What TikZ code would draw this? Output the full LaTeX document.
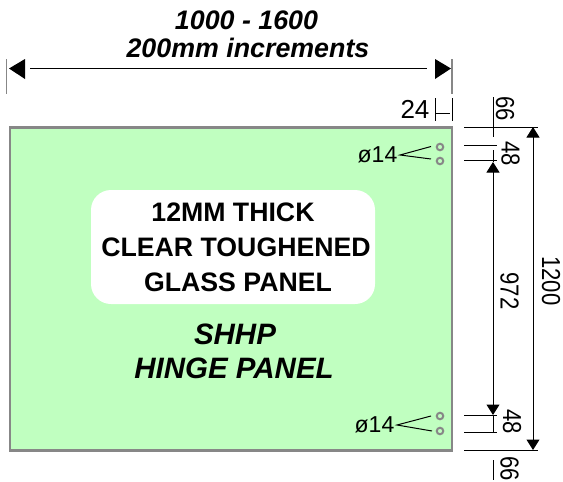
\documentclass[tikz,border=0pt]{standalone}
\usepackage{fontspec}
\setmainfont{Liberation Sans}
\usetikzlibrary{arrows.meta,positioning,calc}
\definecolor{panelgreen}{RGB}{192,255,192}
\definecolor{edgegray}{RGB}{135,135,135}
\tikzset{
    dimline/.style={line width=1pt, black},
    tickline/.style={line width=1.2pt, edgegray},
    bighead/.style={{Triangle[length=10.5pt,width=13pt]}-{Triangle[length=10.5pt,width=13pt]}},
    dimtext/.style={font=\fontsize{26}{28}\selectfont, inner sep=0pt},
    diatext/.style={font=\fontsize{23}{26}\selectfont, inner sep=0pt},
    sidetext/.style={dimtext, rotate=-90, xscale=0.85, transform shape},
    paneltext/.style={font=\fontsize{26.7}{30}\selectfont\bfseries, inner sep=0pt},
    titletext/.style={font=\fontsize{26.8}{30}\selectfont\bfseries\itshape, inner sep=0pt},
    hingetext/.style={font=\fontsize{29.5}{32}\selectfont\bfseries\itshape, inner sep=0pt},
    hole/.style={draw=edgegray, line width=2pt, fill=panelgreen, circle, inner sep=0pt, minimum size=6.5pt}
}
\begin{document}
\begin{tikzpicture}[x=1pt, y=-1pt]
    \useasboundingbox (0,0) rectangle (563,482);

    % Panel
    \node[draw=edgegray, line width=2.6pt, fill=panelgreen, minimum width=442pt, minimum height=323pt, inner sep=0pt, anchor=north west] (panel) at (8.7,125.9) {};
    \node[fill=white, rounded corners=20pt, minimum width=284pt, minimum height=114pt, inner sep=0pt] (label) at (233,247) {};

    % Panel text
    \node[paneltext] (thick) at (233,212) {12MM THICK};
    \node[paneltext] (clear) at (236,247) {CLEAR TOUGHENED};
    \node[paneltext] (glass) at (238,282) {GLASS PANEL};
    \node[hingetext] (shhp) at (235,334) {SHHP};
    \node[hingetext] (hinge) at (234,368) {HINGE PANEL};

    % Overall width
    \node[titletext] (range) at (246.5,20) {1000 - 1600};
    \node[titletext] (incr) at (248,48) {200mm increments};
    \coordinate (wl) at (6.5,59);
    \coordinate (wlb) at (6.5,94);
    \coordinate (wr) at (452,59);
    \coordinate (wrb) at (452,94);
    \draw[tickline] (wl) -- (wlb);
    \draw[tickline] (wr) -- (wrb);
    \fill (9,68.5) -- (25,59) -- (25,79) -- cycle;
    \fill (451,68.5) -- (435,59) -- (435,79) -- cycle;
    \coordinate (wa) at (30,68.5);
    \coordinate (wb) at (427,68.5);
    \draw[dimline] (wa) -- (wb);

    % Hole offset
    \node[dimtext] (d24) at (415,109) {24};
    \coordinate (oa) at (435,98);
    \coordinate (ob) at (435,121);
    \coordinate (oc) at (452,98);
    \coordinate (od) at (452,121);
    \coordinate (oe) at (435,113);
    \coordinate (of) at (450,113);
    \draw[dimline] (oa) -- (ob);
    \draw[dimline] (oc) -- (od);
    \draw[dimline] (oe) -- (of);

    % Holes
    \node[hole] (h1) at (440,147) {};
    \node[hole] (h2) at (440,161) {};
    \node[hole] (h3) at (440,416) {};
    \node[hole] (h4) at (440,431) {};
    \node[diatext] (dia1) at (377.5,155) {ø14};
    \node[diatext] (dia2) at (374.5,425) {ø14};
    \coordinate (l1) at (400,155);
    \coordinate (l2) at (397,425);
    \coordinate (e1) at (431,146.5);
    \coordinate (e2) at (431,159);
    \coordinate (e3) at (431,416);
    \coordinate (e4) at (432,431);
    \draw[dimline] (e1) -- (l1) -- (e2);
    \draw[dimline] (e3) -- (l2) -- (e4);

    % Extension lines
    \foreach \name/\ypos/\xend in {t/127/538, u/145/497, v/160/497, w/415/497, z/432/497, b/450/538} {
        \coordinate (\name s) at (464,\ypos);
        \coordinate (\name e) at (\xend,\ypos);
        \draw[dimline] (\name s) -- (\name e);
    }

    % Vertical dimensions
    \coordinate (k1) at (493,97);
    \coordinate (k4) at (493,137);
    \coordinate (k5) at (493,460);
    \coordinate (k6) at (493,480);
    \draw[dimline] (k1) -- (k4);
    \draw[dimline] (k5) -- (k6);
    \coordinate (m1) at (493,150);
    \coordinate (m2) at (493,415);
    \coordinate (m3) at (493,432);
    \coordinate (n1) at (493,162);
    \coordinate (n2) at (493,415);
    \draw[dimline] (m1) -- (n1);
    \draw[dimline] (m2) -- (m3);
    \draw[dimline, bighead] (n1) -- (n2);
    \coordinate (q1) at (533,127);
    \coordinate (q2) at (533,450);
    \draw[dimline, bighead] (q1) -- (q2);

    % Dimension text
    \node[sidetext] (d66a) at (505,108.5) {66};
    \node[sidetext] (d48a) at (510.5,153.5) {48};
    \node[sidetext] (d972) at (509.5,291) {972};
    \node[sidetext] (d48b) at (512,421.5) {48};
    \node[sidetext] (d66b) at (509.5,468.5) {66};
    \node[sidetext] (d1200) at (551,281) {1200};
\end{tikzpicture}
\end{document}
